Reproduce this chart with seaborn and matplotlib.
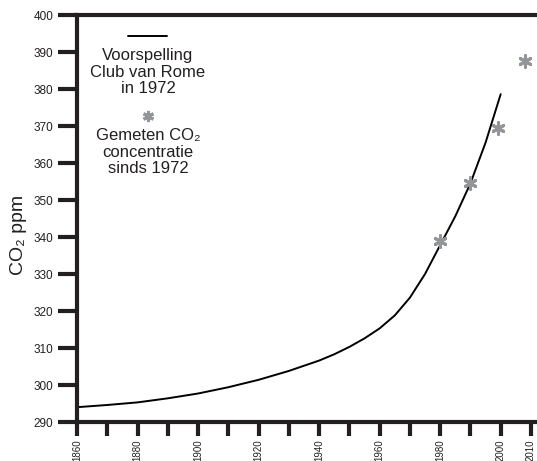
import matplotlib
matplotlib.use("Agg")
import matplotlib.pyplot as plt
import seaborn as sns
import pandas as pd
from matplotlib.lines import Line2D

# Club van Rome 1972 projection of atmospheric CO2 (ppm)
forecast_years = [1860, 1870, 1880, 1890, 1900, 1910, 1920, 1930, 1940, 1945,
                  1950, 1955, 1960, 1965, 1970, 1975, 1980, 1985, 1990, 1995, 2000]
forecast_ppm = [294.0, 294.6, 295.3, 296.4, 297.7, 299.4, 301.4, 303.8, 306.6, 308.3,
                310.3, 312.6, 315.3, 318.8, 323.6, 330.0, 337.8, 345.6, 354.5, 365.5, 378.6]

# Measured CO2 concentration since 1972
measured_years = [1980, 1990, 1999, 2008]
measured_ppm = [339.0, 354.5, 369.5, 387.5]

x_ticks = list(range(1860, 2011, 10))
x_tick_labels = [str(y) if (y % 20 == 0 or y == 2010) else "" for y in x_ticks]
y_ticks = list(range(290, 401, 10))

ink = "#231f20"
grey = "#939598"

sns.set_style("white")
plt.rcParams["font.family"] = ["Liberation Sans", "DejaVu Sans"]

fig = plt.figure(figsize=(5.37, 4.61), dpi=100)
ax = fig.add_axes([77 / 537, 1 - 422 / 461, 1 - 77 / 537, (422 - 15) / 461])

forecast = pd.DataFrame({"year": forecast_years, "ppm": forecast_ppm})
measured = pd.DataFrame({"year": measured_years, "ppm": measured_ppm})

sns.lineplot(data=forecast, x="year", y="ppm", color="black", linewidth=1.4, ax=ax)
sns.scatterplot(data=measured, x="year", y="ppm", marker=(6, 2, 0), s=70,
                color=grey, edgecolor=grey, linewidth=2.2, ax=ax, zorder=3)

ax.set_xlim(1860, 2012)
ax.set_ylim(290, 400)
ax.set_xticks(x_ticks)
ax.set_xticklabels(x_tick_labels, rotation=90, fontsize=7, color=ink)
ax.set_yticks(y_ticks)
ax.set_yticklabels([str(v) for v in y_ticks], fontsize=8.5, color=ink)

ax.tick_params(axis="y", length=14, width=3, color=ink, pad=3, direction="out", left=True)
ax.tick_params(axis="x", length=10, width=3, color=ink, pad=2.5, direction="out", bottom=True)

for side in ["left", "bottom", "top"]:
    ax.spines[side].set_visible(True)
    ax.spines[side].set_linewidth(3)
    ax.spines[side].set_color(ink)
ax.spines["right"].set_visible(False)

ax.set_xlabel("")
ax.set_ylabel("CO₂ ppm", fontsize=14, color=ink)
ax.yaxis.set_label_coords(-0.108, 0.46)

# Key: forecast line and measured marker, each with a centred caption below
tx = (148 - 77) / 460
def fy(py):
    return (422 - py) / 407

ax.add_line(Line2D([(128 - 77) / 460, (167 - 77) / 460], [fy(36), fy(36)],
                   transform=ax.transAxes, color="black", linewidth=1.4))
ax.text(tx, fy(72), "Voorspelling\nClub van Rome\nin 1972", transform=ax.transAxes,
        ha="center", va="center", fontsize=12, color=ink, linespacing=1.12)
ax.add_line(Line2D([tx], [fy(116)], transform=ax.transAxes, marker=(6, 2, 0),
                   markersize=8, markeredgewidth=2.2, color=grey, linestyle="none"))
ax.text(tx, fy(152), "Gemeten CO₂\nconcentratie\nsinds 1972", transform=ax.transAxes,
        ha="center", va="center", fontsize=12, color=ink, linespacing=1.12)

fig.savefig("out.png", dpi=100)
